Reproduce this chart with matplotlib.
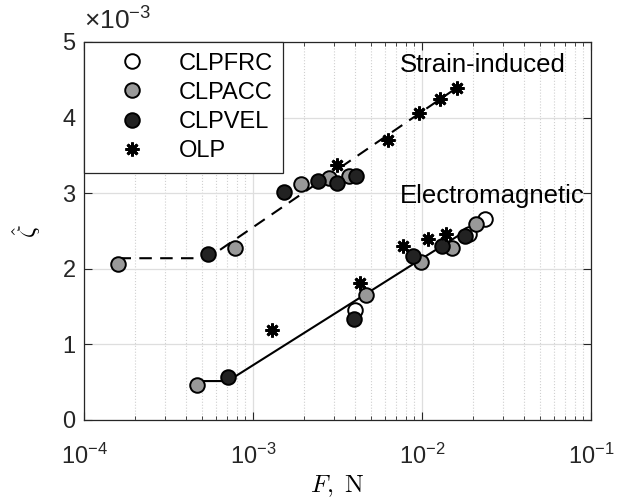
import math
import matplotlib
matplotlib.use('Agg')
import matplotlib.pyplot as plt
from matplotlib.ticker import LogLocator, FuncFormatter, NullFormatter

plt.rcParams['font.family'] = ['Liberation Sans', 'DejaVu Sans']
plt.rcParams['mathtext.fontset'] = 'custom'
plt.rcParams['mathtext.rm'] = 'Liberation Sans'
plt.rcParams['mathtext.it'] = 'Liberation Sans:italic'
plt.rcParams['mathtext.bf'] = 'Liberation Sans:bold'

# данные (zeta в единицах 1e-3)
frc_F = [4.04e-3, 1.91e-2, 2.36e-2]
frc_z = [1.46, 2.46, 2.66]

acc_F = [1.58e-4, 7.80e-4, 1.92e-3, 2.81e-3, 3.69e-3,
         4.67e-4, 4.67e-3, 9.82e-3, 1.51e-2, 2.09e-2]
acc_z = [2.06, 2.27, 3.12, 3.20, 3.23,
         0.46, 1.66, 2.09, 2.28, 2.59]

vel_F = [5.38e-4, 1.53e-3, 2.41e-3, 3.16e-3, 4.07e-3,
         7.13e-4, 3.98e-3, 8.85e-3, 1.32e-2, 1.79e-2]
vel_z = [2.20, 3.02, 3.16, 3.13, 3.23,
         0.57, 1.33, 2.17, 2.30, 2.43]

olp_F = [3.16e-3, 6.31e-3, 9.55e-3, 1.28e-2, 1.62e-2,
         1.30e-3, 4.30e-3, 7.73e-3, 1.08e-2, 1.38e-2]
olp_z = [3.37, 3.70, 4.06, 4.24, 4.39,
         1.19, 1.81, 2.30, 2.40, 2.46]

# аппроксимации
strain_F = [1.6e-4, 5.4e-4, 1.62e-2]
strain_z = [2.14, 2.14, 4.40]
em_F = [4.67e-4, 7.1e-4, 2.1e-2]
em_z = [0.515, 0.515, 2.59]

fig = plt.figure(figsize=(6.27, 5.04), dpi=100)
ax = fig.add_axes([84 / 627, 1 - 420 / 504, (591 - 84) / 627, (420 - 42) / 504])

ax.plot(strain_F, strain_z, color='k', lw=1.5, dashes=(6, 4), zorder=2)
ax.plot(em_F, em_z, color='k', lw=1.5, zorder=2)

mk = dict(linestyle='none', marker='o', markersize=10.5,
          markeredgecolor='k', markeredgewidth=1.4, zorder=3)
ax.plot(frc_F, frc_z, markerfacecolor='white', label='CLPFRC', **mk)
ax.plot(acc_F, acc_z, markerfacecolor='#999999', label='CLPACC', **mk)
ax.plot(vel_F, vel_z, markerfacecolor='#222222', label='CLPVEL', **mk)
ax.plot(olp_F, olp_z, linestyle='none', marker=(8, 2, 0), markersize=10,
        markeredgecolor='k', markeredgewidth=2, color='k', label='OLP', zorder=4)

ax.set_xscale('log')
ax.set_xlim(1e-4, 1e-1)
ax.set_ylim(0, 5)
ax.set_yticks([0, 1, 2, 3, 4, 5])
ax.xaxis.set_major_locator(LogLocator(base=10))
ax.xaxis.set_minor_locator(LogLocator(base=10, subs=range(2, 10)))
ax.xaxis.set_minor_formatter(NullFormatter())
ax.xaxis.set_major_formatter(FuncFormatter(lambda v, p: r'$10^{%d}$' % round(math.log10(v))))

ax.grid(True, which='major', color='#dedede', lw=0.9)
ax.grid(True, which='minor', axis='x', color='#d0d0d0', lw=0.8, linestyle=':')
ax.set_axisbelow(True)

ax.tick_params(which='both', direction='in', top=True, right=True,
               labelsize=17, colors='#262626')
ax.tick_params(which='major', length=6, width=0.8, pad=6)
ax.tick_params(which='minor', length=3, width=0.6)
ax.tick_params(axis='x', which='major', pad=17)
for s in ax.spines.values():
    s.set_color('#262626')
    s.set_linewidth(0.9)

ax.set_xlabel(r'$F,\ \mathrm{N}$', fontsize=18, math_fontfamily='cm', labelpad=3)
ax.set_ylabel(r'$\hat{\zeta}$', fontsize=18, math_fontfamily='cm', labelpad=14)

ax.text(0.0, 1.056, r'$\times10^{-3}$', transform=ax.transAxes, fontsize=19,
        ha='left', va='center', color='#262626')

ax.text(7.4e-3, 4.70, 'Strain-induced', fontsize=18.5, ha='left', va='center')
ax.text(7.4e-3, 2.96, 'Electromagnetic', fontsize=18.5, ha='left', va='center')

leg = ax.legend(loc='upper left', fontsize=17, frameon=True, fancybox=False,
                edgecolor='#262626', framealpha=1, borderaxespad=0,
                borderpad=0.45, handlelength=3.2, handletextpad=0.35,
                labelspacing=0.3)
leg.get_frame().set_linewidth(0.9)

fig.savefig('out.png', dpi=100)
